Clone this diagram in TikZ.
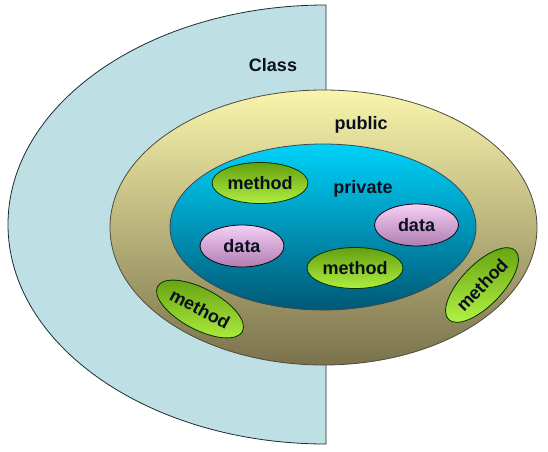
\documentclass[tikz,border=0pt]{standalone}
\usepackage{fontspec}
\setmainfont{Liberation Sans}
\usetikzlibrary{shapes.geometric}
\definecolor{classfill}{RGB}{190,224,228}
\definecolor{classline}{RGB}{25,45,50}
\definecolor{pubtop}{RGB}{249,245,172}
\definecolor{pubmid}{RGB}{232,224,146}
\definecolor{pubbot}{RGB}{122,114,76}
\definecolor{privtop}{RGB}{0,210,250}
\definecolor{privmid}{RGB}{0,168,208}
\definecolor{privbot}{RGB}{0,88,118}
\definecolor{grtop}{RGB}{100,160,15}
\definecolor{grbot}{RGB}{175,238,65}
\definecolor{datop}{RGB}{245,208,245}
\definecolor{dabot}{RGB}{175,125,178}
\definecolor{txt}{RGB}{10,15,30}
\tikzset{
  lbl/.style={font=\fontsize{18}{21}\selectfont\bfseries, text=txt, inner sep=0pt},
  methodbox/.style={ellipse, draw=black!80!green, line width=0.8pt,
    minimum width=96pt, minimum height=41pt, inner sep=0pt,
    top color=grtop, bottom color=grbot, lbl},
  databox/.style={ellipse, draw=black!85!violet, line width=0.8pt,
    minimum width=84pt, minimum height=42pt, inner sep=0pt,
    top color=datop, bottom color=dabot, lbl},
}
\begin{document}
\begin{tikzpicture}[x=1pt,y=1pt]
\useasboundingbox (0,0) rectangle (548,451);
% class half disc
\draw[fill=classfill, draw=classline, line width=0.8pt]
  (326,7) arc[start angle=270,end angle=90,x radius=318,y radius=219.5] -- cycle;
% public ellipse
\node[ellipse, draw=black!80!yellow, line width=0.8pt, minimum width=427pt,
  minimum height=275pt, inner sep=0pt, top color=pubtop, middle color=pubmid,
  bottom color=pubbot] (pub) at (323.5,223.5) {};
% private ellipse
\node[ellipse, draw=black!80!cyan, line width=0.8pt, minimum width=306pt,
  minimum height=166pt, inner sep=0pt, top color=privtop, middle color=privmid,
  bottom color=privbot] (priv) at (323,224) {};
% labels
\node[lbl] (cls) at (273,386) {Class};
\node[lbl] (publbl) at (361,326) {public};
\node[lbl] (privlbl) at (363,262) {private};
% members
\node[methodbox] (m1) at (260,268) {method};
\node[databox] (d1) at (242,205) {data};
\node[methodbox] (m2) at (355,183) {method};
\node[databox] (d2) at (416.5,226) {data};
\node[methodbox, rotate=-28] (m3) at (200,142) {method};
\node[methodbox, rotate=46] (m4) at (482,166) {method};
\end{tikzpicture}
\end{document}
